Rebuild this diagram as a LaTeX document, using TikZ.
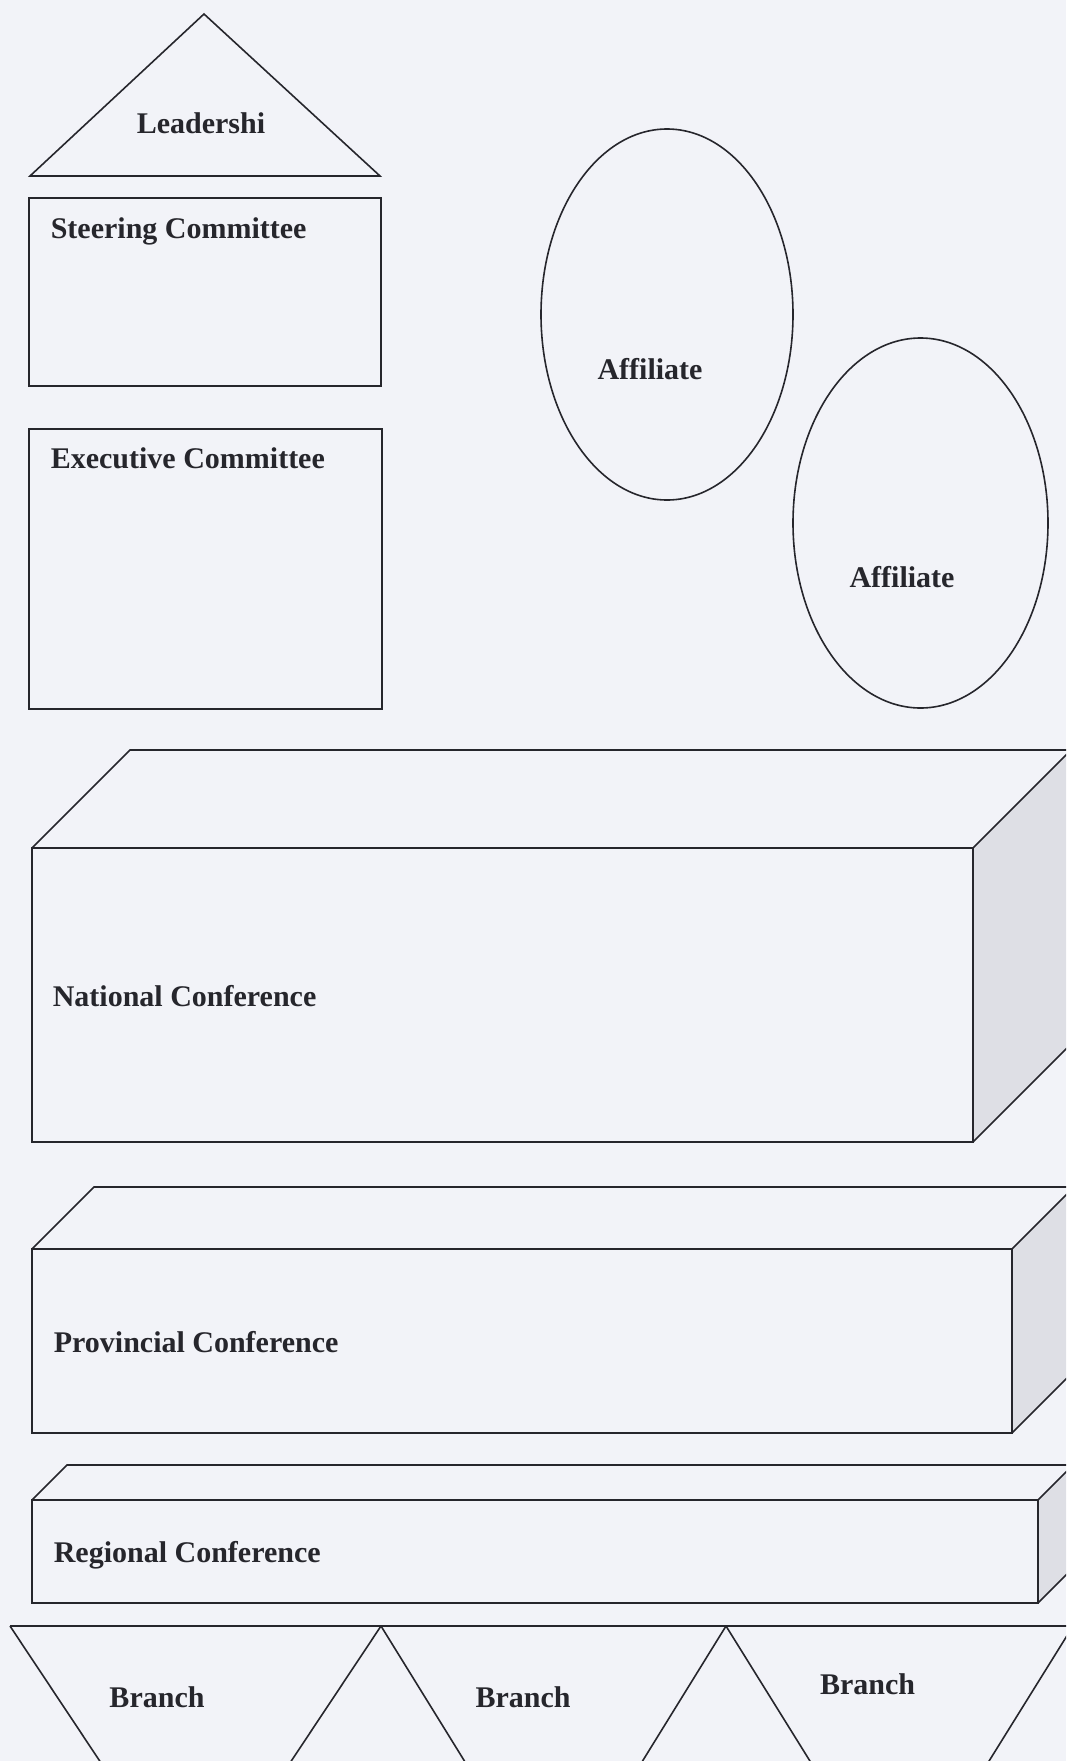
\documentclass[tikz,border=0pt]{standalone}
\usepackage{fontspec}
\setmainfont{Liberation Serif}
\definecolor{bg}{RGB}{242,243,248}
\definecolor{ink}{RGB}{38,38,44}
\definecolor{side}{RGB}{222,223,229}
\begin{document}
\begin{tikzpicture}[x=1pt,y=-1pt,line width=1.6pt,draw=ink,line join=miter,
  lbl/.style={font=\fontsize{30}{36}\selectfont\bfseries,text=ink,inner sep=0pt},
  face/.style={fill=side,draw=none}]
\fill[bg] (0,0) rectangle (1066,1761);
\useasboundingbox (0,0) rectangle (1066,1761);
\begin{scope}
\clip (0,0) rectangle (1066,1761);
% Leadership
\draw (30,176) -- (204,14) -- (380,176) -- cycle;
\node[lbl,anchor=base] (lead) at (201,133) {Leadershi};
% Steering Committee
\draw (29,198) rectangle (381,386);
\node[lbl,anchor=base west] (steer) at (50,238.5) {Steering Committee};
% Executive Committee
\draw (29,429) rectangle (382,709);
\node[lbl,anchor=base west] (exec) at (50,468) {Executive Committee};
% Affiliates
\draw (667,314.5) ellipse [x radius=126pt,y radius=185.5pt];
\node[lbl,anchor=base] (aff1) at (650,379) {Affiliate};
\draw (920.5,523) ellipse [x radius=127.5pt,y radius=185pt];
\node[lbl,anchor=base] (aff2) at (902,587) {Affiliate};
% National Conference (front 32..973 x 848..1142, depth 98)
\fill[face] (973,848) -- (1071,750) -- (1071,1044) -- (973,1142) -- cycle;
\draw (32,848) -- (130,750) -- (1071,750);
\draw (973,848) -- (1071,750);
\draw (973,1142) -- (1071,1044);
\draw (32,848) rectangle (973,1142);
\node[lbl,anchor=base west] (nat) at (52,1006) {National Conference};
% Provincial Conference (front 32..1012 x 1249..1433, depth 62)
\fill[face] (1012,1249) -- (1074,1187) -- (1074,1371) -- (1012,1433) -- cycle;
\draw (32,1249) -- (94,1187) -- (1074,1187);
\draw (1012,1249) -- (1074,1187);
\draw (1012,1433) -- (1074,1371);
\draw (32,1249) rectangle (1012,1433);
\node[lbl,anchor=base west] (prov) at (53,1352) {Provincial Conference};
% Regional Conference (front 32..1038 x 1500..1603, depth 35)
\fill[face] (1038,1500) -- (1073,1465) -- (1073,1568) -- (1038,1603) -- cycle;
\draw (32,1500) -- (67,1465) -- (1073,1465);
\draw (1038,1500) -- (1073,1465);
\draw (1038,1603) -- (1073,1568);
\draw (32,1500) rectangle (1038,1603);
\node[lbl,anchor=base west] (reg) at (53,1562) {Regional Conference};
% Branches
\draw (10,1626) -- (1073,1626);
\draw (10,1626) -- (195.5,1905) -- (381,1626);
\draw (381,1626) -- (553.5,1905) -- (726,1626);
\draw (726,1626) -- (899.5,1905) -- (1073,1626);
\node[lbl,anchor=base] (br1) at (157,1707) {Branch};
\node[lbl,anchor=base] (br2) at (523,1707) {Branch};
\node[lbl,anchor=base] (br3) at (867.5,1694) {Branch};
\end{scope}
\end{tikzpicture}
\end{document}
